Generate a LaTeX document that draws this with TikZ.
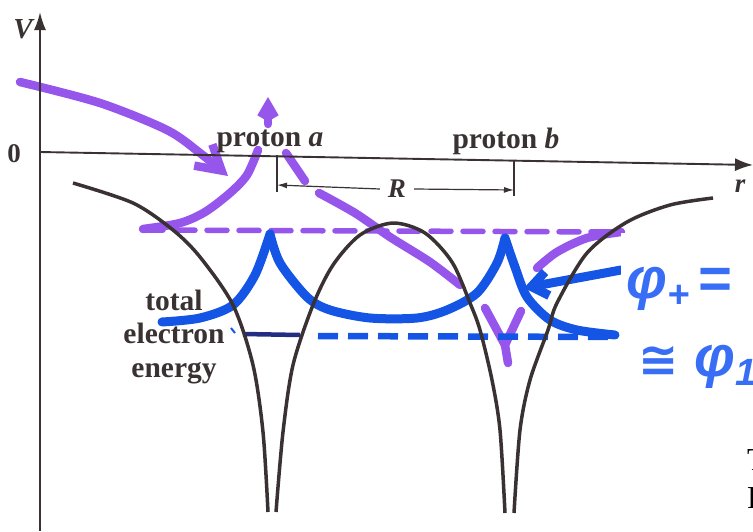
\documentclass[tikz,border=0pt]{standalone}
\usepackage{fontspec}
\setmainfont{Liberation Serif}
\newfontfamily\formfont{Liberation Sans}
\newfontfamily\symfont{DejaVu Sans}
\usepackage{tikz}
\usetikzlibrary{positioning,arrows.meta}
\definecolor{ink}{RGB}{58,50,50}
\definecolor{hlpurple}{RGB}{150,85,235}
\definecolor{hlblue}{RGB}{20,85,230}
\definecolor{navy}{RGB}{35,45,130}
\definecolor{formblue}{RGB}{55,110,245}

\begin{document}
\begin{tikzpicture}[x=1pt,y=-1pt,
  axis/.style={ink,line width=1.9pt},
  well/.style={ink,line width=3.5pt},
  violet/.style={hlpurple,line width=8.5pt,line cap=round,line join=round},
  bluepen/.style={hlblue,line width=9pt,line cap=round,line join=round},
  lab/.style={ink,font=\fontsize{29.5}{33.5}\selectfont\bfseries}]
\useasboundingbox (0,0) rectangle (753,531);
\clip (0,0) rectangle (753,531);
% purple marker
\draw[violet,line width=5.5pt,dash pattern=on 20pt off 12pt] (143,230) -- (621,232);
\draw[violet,-{Straight Barb[length=24pt,width=28pt]}] plot[smooth] coordinates {(20,82) (100,103) (167,130) (200,153) (228,176)};
\draw[violet,-{Straight Barb[length=12pt,width=14pt]}] (268,124) -- (268,97);
\draw[violet] plot[smooth] coordinates {(258,150) (247,175) (230,193) (205,212) (180,223) (143,229)};
\draw[violet] (286,153) -- (305,181);
\draw[violet] plot[smooth] coordinates {(319,193) (355,213) (390,237) (430,262) (460,285)};
\draw[violet] (485,308) -- (505,345) -- (521,311);
\draw[violet] (505,345) -- (508,363);
\draw[violet] plot[smooth] coordinates {(537,268) (557,252) (587,238) (621,232)};
% blue marker
\draw[navy,line width=4.5pt] (243,334) -- (300,335);
\draw[hlblue,line width=2pt] (231,328) -- (235,333);
\draw[hlblue,line width=6.5pt,dash pattern=on 20pt off 10pt] (318,336) -- (616,337);
\draw[bluepen] plot[smooth] coordinates {(162,322) (200,318) (233,305) (255,275) (270,234)};
\draw[bluepen] plot[smooth] coordinates {(270,234) (280,263) (307,297) (330,310) (370,318) (417,318) (447,310) (477,293) (497,263) (505,238)};
\draw[bluepen] plot[smooth] coordinates {(505,238) (515,267) (527,297) (550,320) (577,330) (615,335)};
\draw[bluepen,-{Straight Barb[length=16pt,width=24pt]}] (621,270) -- (524,288);
% potential of the two protons
\draw[well] plot[smooth] coordinates {(73,183) (133,203) (173,230) (200,257) (233,305) (253,365) (263,432) (268,512)};
\draw[well] plot[smooth] coordinates {(276,512) (283,432) (293,365) (313,305) (333,265) (360,235) (393,223) (425,233) (452,262) (470,303) (480,330) (492,380) (500,430) (505,513)};
\draw[well] plot[smooth] coordinates {(514,513) (520,430) (530,380) (548,330) (557,303) (587,253) (627,222) (670,205) (713,198)};
% axes
\draw[axis,-{Latex[length=18pt,width=12pt]}] (40,531) -- (40,12);
\draw[axis,-{Latex[length=18pt,width=13pt]}] (40,152) -- (753,165);
\node[ink,font=\fontsize{29}{29}\selectfont\bfseries\itshape] (vlab) at (23,29) {V};
\node[ink,font=\fontsize{27}{27}\selectfont\bfseries] (zero) at (14,154) {0};
\node[ink,font=\fontsize{27}{27}\selectfont\bfseries\itshape] (rlab) at (740,186) {r};
\node[lab,anchor=base] (protona) at (270,146) {proton \textit{a}};
\node[lab,anchor=base] (protonb) at (506,148) {proton \textit{b}};
\node[lab,align=center] (total) at (174,337) {total\\electron\\energy};
% separation R
\draw[ink,line width=1.2pt] (277,155) -- (277,192);
\draw[ink,line width=1.2pt] (514,160) -- (514,196);
\coordinate (ta) at (277,185);
\coordinate (tb) at (514,190);
\node[ink,font=\fontsize{27}{27}\selectfont\bfseries\itshape,inner sep=8pt] (rdist) at (397,189) {R};
\draw[ink,line width=1.2pt,-{Latex[length=10pt,width=6pt]}] (rdist.west) -- (ta);
\draw[ink,line width=1.2pt,-{Latex[length=10pt,width=6pt]}] (rdist.east) -- (tb);
% formula on white
\fill[white] (621,233) rectangle (753,400);
\node[anchor=base west,formblue,inner sep=0,font=\formfont\bfseries\itshape\fontsize{58}{58}\selectfont] (phiplus) at (626,298) {φ\raisebox{-9pt}{\fontsize{38}{38}\selectfont+}\hspace{8pt}=};
\node[anchor=base west,formblue,inner sep=0,font=\formfont\bfseries\itshape\fontsize{58}{58}\selectfont] (phione) at (638,376) {{\symfont\fontsize{48}{48}\selectfont ≅}\hspace{16pt}φ\raisebox{-9pt}{\fontsize{38}{38}\selectfont 1}};
\node[anchor=base west,inner sep=0,font=\fontsize{32}{32}\selectfont] (capT) at (747,470) {T};
\node[anchor=base west,inner sep=0,font=\fontsize{32}{32}\selectfont] (capF) at (747,508) {F};
\end{tikzpicture}
\end{document}
